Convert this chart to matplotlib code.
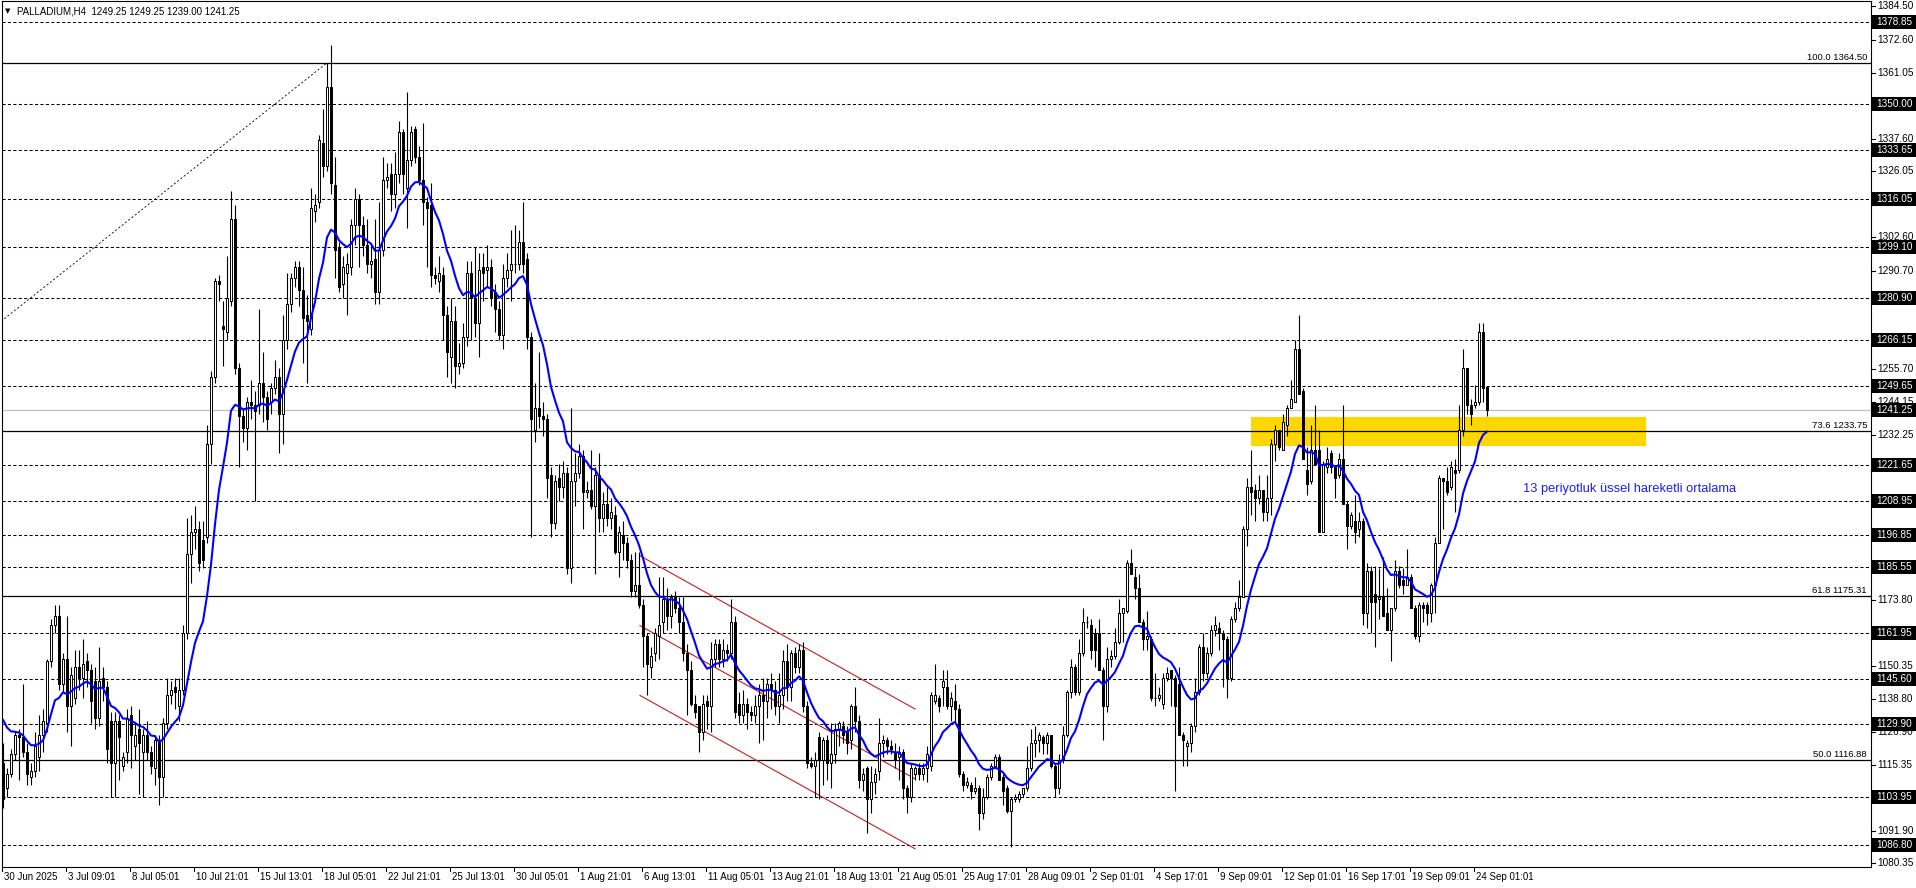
import matplotlib
matplotlib.use("Agg")
import matplotlib.pyplot as plt
from matplotlib.collections import LineCollection, PatchCollection
from matplotlib.patches import Rectangle
import numpy as np

# ---------------- data ----------------
SYMBOL = "PALLADIUM,H4"
LAST_BAR = "1249.25 1249.25 1239.00 1241.25"

OPEN = [
    1116, 1107, 1112, 1119, 1126, 1125, 1120, 1111, 1113, 1118,
    1126, 1130, 1152, 1165, 1168, 1144, 1153, 1136, 1139, 1150,
    1146, 1152, 1149, 1145, 1132, 1146, 1143, 1131, 1116, 1131,
    1115, 1120, 1133, 1122, 1128, 1120, 1126, 1120, 1114, 1124,
    1111, 1130, 1140, 1143, 1136, 1142, 1162, 1190, 1198, 1199,
    1195, 1196, 1229, 1253, 1287, 1271, 1269, 1280, 1309, 1256,
    1239, 1235, 1244, 1243, 1243, 1251, 1246, 1244, 1249, 1253,
    1240, 1266, 1279, 1288, 1292, 1284, 1275, 1270, 1312, 1315,
    1336, 1328, 1356, 1321, 1299, 1286, 1290, 1292, 1307, 1316,
    1307, 1300, 1293, 1295, 1283, 1298, 1323, 1325, 1318, 1325,
    1340, 1320, 1330, 1341, 1331, 1323, 1315, 1314, 1289, 1287,
    1289, 1275, 1260, 1273, 1257, 1258, 1267, 1290, 1281, 1272,
    1292, 1291, 1292, 1283, 1277, 1268, 1288, 1291, 1293, 1293,
    1301, 1295, 1267, 1234, 1242, 1239, 1238, 1218, 1201, 1217,
    1214, 1219, 1185, 1216, 1219, 1225, 1212, 1213, 1207, 1218,
    1203, 1208, 1203, 1204, 1191, 1197, 1194, 1188, 1177, 1179,
    1172, 1161, 1150, 1155, 1161, 1166, 1174, 1168, 1175, 1171,
    1166, 1155, 1149, 1137, 1136, 1127, 1138, 1136, 1153, 1158,
    1153, 1156, 1155, 1166, 1137, 1133, 1137, 1134, 1133, 1136,
    1140, 1138, 1144, 1142, 1136, 1140, 1152, 1143, 1155, 1150,
    1156, 1136, 1116, 1115, 1125, 1117, 1124, 1116, 1119, 1128,
    1129, 1127, 1124, 1136, 1131, 1110, 1114, 1103, 1109, 1113,
    1123, 1124, 1122, 1120, 1118, 1120, 1107, 1104, 1112, 1114,
    1112, 1114, 1115, 1138, 1139, 1143, 1143, 1136, 1138, 1135,
    1112, 1108, 1108, 1106, 1107, 1098, 1104, 1111, 1115, 1118,
    1111, 1107, 1099, 1103, 1103, 1105, 1107, 1114, 1123, 1124,
    1125, 1123, 1126, 1115, 1107, 1117, 1126, 1141, 1150, 1141,
    1155, 1166, 1165, 1162, 1162, 1149, 1136, 1153, 1154, 1159,
    1169, 1170, 1187, 1182, 1178, 1166, 1160, 1160, 1139, 1139,
    1137, 1146, 1149, 1146, 1144, 1126, 1122, 1123, 1129, 1141,
    1157, 1148, 1155, 1163, 1164, 1162, 1160, 1146, 1167, 1171,
    1175, 1199, 1214, 1213, 1210, 1213, 1205, 1210, 1229, 1234,
    1227, 1236, 1242, 1244, 1263, 1248, 1220, 1216, 1227, 1227,
    1198, 1221, 1226, 1221, 1218, 1224, 1208, 1200, 1202, 1199,
    1202, 1169, 1184, 1176, 1174, 1175, 1169, 1163, 1171, 1184,
    1181, 1179, 1182, 1171, 1161, 1172, 1172, 1169, 1179, 1194,
    1217, 1216, 1214, 1220, 1220, 1234, 1256, 1243, 1243, 1244,
    1269, 1249.25,
]
HIGH = [
    1123, 1114, 1121, 1127, 1128, 1144, 1123, 1116, 1127, 1133,
    1135, 1153, 1167, 1172, 1172, 1155, 1168, 1150, 1156, 1156,
    1160, 1155, 1151, 1150, 1157, 1150, 1145, 1134, 1134, 1133,
    1120, 1135, 1136, 1130, 1135, 1128, 1131, 1122, 1126, 1126,
    1132, 1146, 1145, 1146, 1146, 1165, 1203, 1204, 1207, 1202,
    1202, 1236, 1255, 1288, 1289, 1280, 1296, 1319, 1314, 1258,
    1242, 1246, 1252, 1248, 1277, 1262, 1248, 1251, 1259, 1256,
    1275, 1290, 1290, 1294, 1294, 1292, 1282, 1320, 1318, 1339,
    1348, 1364.5, 1371, 1331, 1301, 1296, 1297, 1309, 1320, 1318,
    1310, 1309, 1300, 1309, 1315, 1331, 1329, 1329, 1333, 1344,
    1341, 1354, 1342, 1342, 1335, 1343, 1317, 1322, 1292, 1296,
    1292, 1278, 1281, 1278, 1265, 1272, 1294, 1294, 1299, 1297,
    1297, 1300, 1295, 1286, 1280, 1293, 1297, 1305, 1307, 1305,
    1315, 1297, 1269, 1251, 1262, 1244, 1240, 1221, 1218, 1222,
    1223, 1221, 1242, 1226, 1229, 1227, 1216, 1227, 1221, 1226,
    1212, 1214, 1210, 1207, 1200, 1202, 1196, 1190, 1191, 1191,
    1174, 1162, 1157, 1164, 1182, 1182, 1178, 1176, 1177, 1175,
    1175, 1158, 1152, 1140, 1136, 1140, 1140, 1159, 1160, 1160,
    1160, 1158, 1174, 1168, 1141, 1142, 1139, 1136, 1140, 1144,
    1146, 1146, 1148, 1145, 1148, 1156, 1158, 1156, 1157, 1158,
    1159, 1138, 1118, 1120, 1127, 1125, 1126, 1130, 1130, 1131,
    1131, 1129, 1137, 1143, 1133, 1114, 1115, 1115, 1114, 1132,
    1126, 1125, 1124, 1123, 1122, 1121, 1108, 1116, 1115, 1116,
    1116, 1122, 1141, 1151, 1140, 1149, 1149, 1141, 1144, 1137,
    1113, 1111, 1109, 1111, 1108, 1107, 1112, 1116, 1119, 1119,
    1112, 1108, 1104, 1105, 1106, 1107, 1122, 1128, 1129, 1127,
    1126, 1127, 1126, 1116, 1119, 1129, 1142, 1153, 1151, 1160,
    1171, 1168, 1167, 1164, 1167, 1150, 1157, 1156, 1164, 1174,
    1171, 1188, 1192, 1185, 1183, 1167, 1170, 1161, 1148, 1143,
    1148, 1150, 1149, 1147, 1150, 1127, 1124, 1130, 1146, 1158,
    1162, 1157, 1165, 1168, 1166, 1163, 1161, 1168, 1173, 1181,
    1200, 1217, 1227, 1215, 1218, 1213, 1218, 1231, 1236, 1234,
    1240, 1243, 1252, 1266, 1275, 1249, 1228, 1236, 1243, 1234,
    1223, 1228, 1227, 1221, 1226, 1243, 1209, 1205, 1211, 1205,
    1203, 1187, 1186, 1186, 1185, 1189, 1178, 1171, 1188, 1186,
    1185, 1192, 1183, 1172, 1173, 1173, 1173, 1180, 1196, 1218,
    1217, 1221, 1223, 1224, 1243, 1263, 1256, 1245, 1250, 1272,
    1272, 1249.25,
]
LOW = [
    1100, 1104, 1111, 1117, 1110, 1118, 1108, 1108, 1111, 1113,
    1120, 1127, 1150, 1162, 1142, 1141, 1127, 1122, 1137, 1142,
    1139, 1143, 1130, 1128, 1129, 1138, 1116, 1104, 1104, 1110,
    1113, 1116, 1114, 1117, 1105, 1104, 1117, 1112, 1108, 1101,
    1104, 1128, 1137, 1135, 1131, 1140, 1160, 1180, 1192, 1184,
    1185, 1194, 1222, 1251, 1280, 1257, 1266, 1278, 1254, 1221,
    1230, 1227, 1238, 1209, 1240, 1237, 1234, 1240, 1247, 1226,
    1229, 1263, 1276, 1285, 1278, 1258, 1251, 1268, 1308, 1313,
    1324, 1326, 1318, 1288, 1283, 1281, 1275, 1289, 1300, 1292,
    1296, 1290, 1288, 1279, 1279, 1296, 1320, 1312, 1313, 1322,
    1318, 1306, 1328, 1329, 1321, 1307, 1292, 1285, 1286, 1283,
    1266, 1253, 1251, 1249, 1254, 1256, 1264, 1266, 1267, 1260,
    1280, 1285, 1278, 1269, 1266, 1263, 1285, 1280, 1290, 1291,
    1290, 1263, 1196, 1230, 1235, 1232, 1210, 1196, 1199, 1209,
    1210, 1183, 1180, 1207, 1217, 1199, 1210, 1206, 1183, 1198,
    1198, 1200, 1199, 1190, 1182, 1188, 1185, 1175, 1175, 1171,
    1150, 1140, 1146, 1152, 1153, 1162, 1163, 1164, 1169, 1162,
    1152, 1133, 1136, 1132, 1120, 1124, 1128, 1127, 1150, 1150,
    1150, 1152, 1153, 1132, 1130, 1130, 1128, 1131, 1130, 1123,
    1124, 1132, 1135, 1133, 1130, 1135, 1138, 1138, 1148, 1148,
    1134, 1114, 1114, 1104, 1103, 1108, 1110, 1107, 1116, 1122,
    1123, 1119, 1121, 1127, 1107, 1106, 1091, 1098, 1105, 1110,
    1118, 1119, 1119, 1114, 1110, 1103, 1098, 1102, 1110, 1110,
    1110, 1109, 1113, 1137, 1134, 1136, 1135, 1131, 1131, 1111,
    1106, 1107, 1103, 1105, 1092, 1096, 1103, 1110, 1114, 1110,
    1101, 1098, 1086, 1102, 1102, 1104, 1106, 1113, 1118, 1120,
    1119, 1119, 1114, 1104, 1105, 1116, 1125, 1139, 1140, 1140,
    1154, 1164, 1153, 1150, 1149, 1124, 1134, 1150, 1153, 1158,
    1159, 1169, 1183, 1174, 1166, 1156, 1156, 1138, 1136, 1138,
    1135, 1145, 1136, 1106, 1126, 1115, 1115, 1120, 1127, 1140,
    1145, 1146, 1154, 1161, 1156, 1143, 1139, 1145, 1166, 1170,
    1175, 1193, 1204, 1202, 1208, 1202, 1202, 1204, 1223, 1227,
    1227, 1232, 1242, 1244, 1247, 1224, 1211, 1215, 1222, 1198,
    1198, 1219, 1219, 1210, 1217, 1208, 1192, 1199, 1194, 1196,
    1165, 1164, 1162, 1157, 1167, 1168, 1163, 1152, 1170, 1178,
    1176, 1179, 1171, 1160, 1159, 1166, 1165, 1166, 1169, 1194,
    1199, 1211, 1213, 1205, 1219, 1232, 1240, 1236, 1242, 1243,
    1244, 1239.00,
]
CLOSE = [
    1103, 1112, 1119, 1126, 1125, 1120, 1112, 1113, 1122, 1126,
    1131, 1152, 1165, 1168, 1144, 1153, 1136, 1147, 1150, 1146,
    1151, 1149, 1138, 1132, 1145, 1143, 1121, 1116, 1131, 1125,
    1118, 1132, 1126, 1126, 1123, 1126, 1120, 1115, 1124, 1111,
    1130, 1140, 1142, 1141, 1142, 1162, 1190, 1198, 1199, 1187,
    1188, 1229, 1253, 1287, 1286, 1270, 1281, 1309, 1256, 1239,
    1235, 1244, 1243, 1241, 1251, 1246, 1238, 1249, 1253, 1240,
    1266, 1279, 1288, 1292, 1284, 1274, 1273, 1313, 1314, 1337,
    1328, 1356, 1322, 1298, 1285, 1292, 1293, 1307, 1316, 1307,
    1300, 1293, 1294, 1283, 1298, 1323, 1324, 1318, 1325, 1340,
    1325, 1330, 1340, 1331, 1323, 1315, 1313, 1289, 1288, 1290,
    1275, 1262, 1273, 1257, 1258, 1267, 1290, 1281, 1272, 1291,
    1290, 1292, 1281, 1277, 1268, 1288, 1291, 1293, 1293, 1301,
    1293, 1267, 1238, 1242, 1239, 1238, 1217, 1201, 1216, 1214,
    1219, 1185, 1216, 1219, 1225, 1212, 1213, 1207, 1218, 1203,
    1208, 1203, 1205, 1191, 1198, 1194, 1188, 1177, 1179, 1172,
    1161, 1151, 1154, 1162, 1165, 1174, 1168, 1175, 1171, 1166,
    1155, 1149, 1137, 1134, 1127, 1137, 1136, 1153, 1158, 1153,
    1156, 1155, 1166, 1134, 1133, 1137, 1134, 1133, 1136, 1140,
    1138, 1144, 1142, 1136, 1140, 1152, 1143, 1155, 1150, 1156,
    1136, 1116, 1115, 1117, 1117, 1124, 1116, 1119, 1128, 1130,
    1126, 1123, 1136, 1131, 1110, 1112, 1103, 1109, 1112, 1123,
    1124, 1122, 1121, 1117, 1120, 1107, 1104, 1114, 1114, 1112,
    1114, 1119, 1140, 1140, 1136, 1145, 1136, 1139, 1135, 1112,
    1108, 1109, 1106, 1107, 1098, 1104, 1111, 1115, 1118, 1110,
    1106, 1099, 1103, 1104, 1105, 1107, 1114, 1123, 1124, 1126,
    1123, 1126, 1115, 1107, 1117, 1126, 1141, 1150, 1141, 1155,
    1166, 1166, 1156, 1156, 1149, 1136, 1153, 1154, 1159, 1169,
    1171, 1187, 1183, 1178, 1166, 1160, 1161, 1139, 1139, 1140,
    1146, 1148, 1146, 1136, 1126, 1124, 1123, 1129, 1141, 1157,
    1148, 1155, 1163, 1165, 1162, 1160, 1146, 1167, 1171, 1175,
    1199, 1214, 1212, 1210, 1213, 1205, 1210, 1229, 1234, 1228,
    1237, 1242, 1245, 1263, 1247, 1224, 1215, 1227, 1222, 1198,
    1222, 1224, 1221, 1217, 1224, 1208, 1200, 1204, 1198, 1202,
    1169, 1184, 1173, 1173, 1175, 1168, 1163, 1171, 1184, 1179,
    1179, 1182, 1171, 1161, 1172, 1171, 1169, 1179, 1194, 1217,
    1216, 1212, 1221, 1219, 1234, 1256, 1243, 1240, 1244, 1269,
    1249, 1241.25,
]

DATE_LABELS = [
    "30 Jun 2025", "3 Jul 09:01", "8 Jul 05:01", "10 Jul 21:01", "15 Jul 13:01",
    "18 Jul 05:01", "22 Jul 21:01", "25 Jul 13:01", "30 Jul 05:01", "1 Aug 21:01",
    "6 Aug 13:01", "11 Aug 05:01", "13 Aug 21:01", "18 Aug 13:01", "21 Aug 05:01",
    "25 Aug 17:01", "28 Aug 09:01", "2 Sep 01:01", "4 Sep 17:01", "9 Sep 09:01",
    "12 Sep 01:01", "16 Sep 17:01", "19 Sep 09:01", "24 Sep 01:01",
]
BARS_PER_LABEL = 16

DASHED_LEVELS = [1378.85, 1350.00, 1333.65, 1316.05, 1299.10, 1280.90, 1266.15,
                 1249.65, 1221.65, 1208.95, 1196.85, 1185.55, 1161.95, 1145.60,
                 1129.90, 1103.95, 1086.80]
FIB_PCT = [100.0, 73.6, 61.8, 50.0]
FIB_PRICE = [1364.50, 1233.75, 1175.31, 1116.88]
BID = 1241.25
AXIS_TICKS = [1384.50, 1372.60, 1361.05, 1349.50, 1337.60, 1326.05, 1314.15,
              1302.60, 1290.70, 1279.15, 1267.60, 1255.70, 1244.15, 1232.25,
              1220.70, 1209.15, 1197.25, 1185.70, 1173.80, 1162.25, 1150.35,
              1138.80, 1126.90, 1115.35, 1103.45, 1091.90, 1080.35]
ZONE_LOW, ZONE_HIGH = 1228.3, 1238.6
ZONE_BARS = (312, 410.75)
EMA_PERIOD = 13
EMA_SEED = 1136.0
CHANNEL_BARS = (159.25, 228.0)
CHANNEL_START = [1189.5, 1164.7, 1139.9]
CHANNEL_END = [1135.1, 1110.3, 1085.5]
FIB_LINE_BARS = (-0.5, 81.0)
FIB_LINE_PRICES = (1272.7, 1364.50)
EMA_NOTE = "13 periyotluk üssel hareketli ortalama"
EMA_NOTE_POS = (380, 1213.3)

# ---------------- layout ----------------
W, H, DPI = 1916, 888, 100
PL, PR, PT, PB = 2, 1871, 1, 867          # plot area in pixels
FONT = ["Liberation Sans", "DejaVu Sans"]
plt.rcParams["font.family"] = FONT

fig = plt.figure(figsize=(W / DPI, H / DPI), dpi=DPI)
fig.patch.set_facecolor("white")
ax = fig.add_axes([PL / W, 1 - PB / H, (PR - PL) / W, (PB - PT) / H])
XMIN, XMAX = -0.25, 467.0
YMIN, YMAX = 1079.0, 1386.45
ax.set_xlim(XMIN, XMAX)
ax.set_ylim(YMIN, YMAX)
ax.set_xticks([])
ax.set_yticks([])
for s in ax.spines.values():
    s.set_color("black")
    s.set_linewidth(0.8)

ppx_y = (PB - PT) / (YMAX - YMIN)   # pixels per price unit
ax_w = PR - PL
ax_h = PB - PT

def xax(px):   # figure pixel x -> axes fraction
    return (px - PL) / ax_w

def yax(py):   # figure pixel y (from top) -> axes fraction
    return 1 - (py - PT) / ax_h

n = len(CLOSE)
assert len(OPEN) == n and len(HIGH) == n and len(LOW) == n, (len(OPEN), len(HIGH), len(LOW), n)
xs = np.arange(n)

# zone
ax.add_patch(Rectangle((ZONE_BARS[0], ZONE_LOW), ZONE_BARS[1] - ZONE_BARS[0],
                       ZONE_HIGH - ZONE_LOW, facecolor="#FFD700", edgecolor="none", zorder=0.5))

# horizontal levels
for p in DASHED_LEVELS:
    ax.axhline(p, color="black", lw=0.75, ls=(0, (3, 2.2)), zorder=1)
for p in FIB_PRICE:
    ax.axhline(p, color="black", lw=0.9, zorder=1)
ax.axhline(BID, color="#c0c0c0", lw=0.9, zorder=1)

# fib trend line
ax.plot(FIB_LINE_BARS, FIB_LINE_PRICES, color="black", lw=0.6, ls=(0, (2.5, 2.5)), zorder=1.5)

# channel
for a, b in zip(CHANNEL_START, CHANNEL_END):
    ax.plot(CHANNEL_BARS, (a, b), color="#c81e1e", lw=0.8, zorder=1.5)

# candles
wicks = [[(i, LOW[i]), (i, HIGH[i])] for i in range(n)]
ax.add_collection(LineCollection(wicks, colors="black", linewidths=0.8, zorder=3))
bodies, fcs = [], []
for i in range(n):
    lo, hi = min(OPEN[i], CLOSE[i]), max(OPEN[i], CLOSE[i])
    bodies.append(Rectangle((i - 0.28, lo), 0.56, max(hi - lo, 0.05)))
    fcs.append("white" if CLOSE[i] >= OPEN[i] else "black")
ax.add_collection(PatchCollection(bodies, facecolors=fcs, edgecolors="black",
                                  linewidths=0.7, zorder=4))

# EMA 13
alpha = 2.0 / (EMA_PERIOD + 1)
ema, prev = [], EMA_SEED
for c in CLOSE:
    prev = prev + alpha * (c - prev)
    ema.append(prev)
ax.plot(xs, ema, color="#0000ff", lw=1.5, zorder=5, solid_capstyle="round")

ax.text(EMA_NOTE_POS[0], EMA_NOTE_POS[1], EMA_NOTE, color="#1f1ff0", fontsize=9.3,
        ha="left", va="center", zorder=6)

# fib labels
for pct, p in zip(FIB_PCT, FIB_PRICE):
    ax.text(xax(1867), p + 1.0 / ppx_y, f"{pct:.1f} {p:.2f}", transform=ax.get_yaxis_transform(),
            ha="right", va="bottom", fontsize=6.8, color="black", zorder=6)

# right price axis: plain scale ticks (those hidden under level boxes are skipped)
ytr = ax.get_yaxis_transform()
boxed = DASHED_LEVELS + [BID]
for p in AXIS_TICKS:
    ax.plot([1.0, xax(1875)], [p, p], transform=ytr, color="black", lw=0.8, clip_on=False)
    if min(abs(p - q) for q in boxed) < 2.0:
        continue
    ax.text(xax(1877), p, f"{p:.2f}", transform=ytr, ha="left", va="center",
            fontsize=7.2, color="black", clip_on=False, zorder=7)
box_h = 14 / ppx_y
for p in boxed:
    ax.add_patch(Rectangle((xax(1872), p - box_h / 2), xax(1916) - xax(1872), box_h,
                           transform=ytr, facecolor="black", edgecolor="none",
                           clip_on=False, zorder=8))
    ax.text(xax(1876), p, f"{p:.2f}", transform=ytr, ha="left", va="center",
            fontsize=7.2, color="white", clip_on=False, zorder=9)

# time axis
xtr = ax.get_xaxis_transform()
for k, lab in enumerate(DATE_LABELS):
    b = k * BARS_PER_LABEL
    ax.plot([b - 0.25, b - 0.25], [0, yax(PB + 4)], transform=xtr, color="black", lw=0.8, clip_on=False)
    ax.text(b + 0.3, yax(877), lab, transform=xtr, ha="left", va="center",
            fontsize=7.0, color="black", clip_on=False)

# header
fig.text(5 / W, 1 - 11 / H, "▼", fontsize=5, family=["DejaVu Sans"], va="center", ha="left")
fig.text(17 / W, 1 - 11 / H, f"{SYMBOL}  {LAST_BAR}", fontsize=7.0, va="center", ha="left")

fig.savefig("out.png", dpi=DPI)
